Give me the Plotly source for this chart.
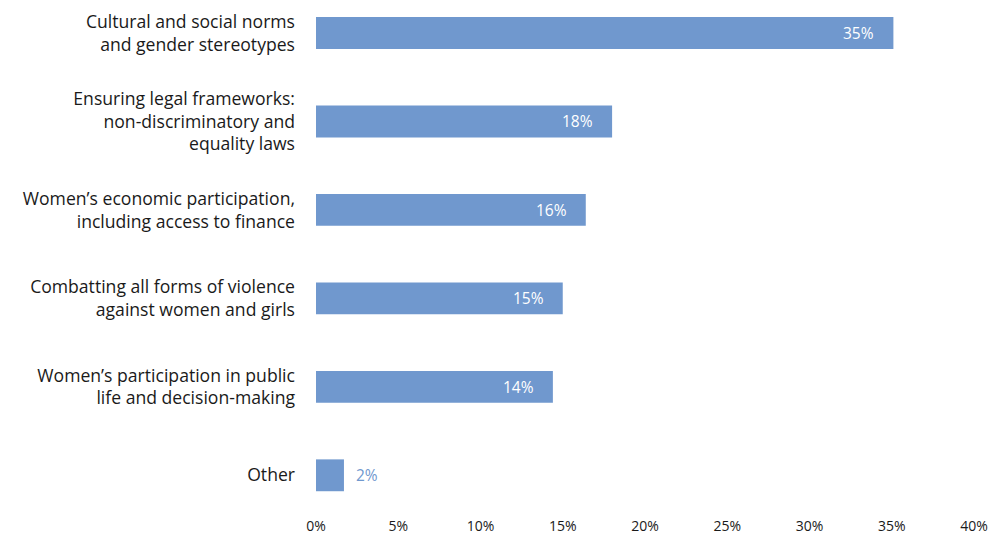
import plotly.graph_objects as go

# Share of responses by priority area (%)
categories = [
    "Cultural and social norms<br>and gender stereotypes",
    "Ensuring legal frameworks:<br>non-discriminatory and<br>equality laws",
    "Women\u2019s economic participation,<br>including access to finance",
    "Combatting all forms of violence<br>against women and girls",
    "Women\u2019s participation in public<br>life and decision-making",
    "Other",
]
values = [35.1, 18.0, 16.4, 15.0, 14.4, 1.7]
tick_vals = [0, 5, 10, 15, 20, 25, 30, 35, 40]
tick_text = [f"{v}%" for v in tick_vals]

BAR = "#7098CE"

fig = go.Figure(
    go.Bar(
        x=values,
        y=categories,
        orientation="h",
        marker=dict(color=BAR, line=dict(width=0)),
        width=0.36,
        hoverinfo="skip",
    )
)

# value labels: inside the bar end for large bars, outside for small ones
for cat, v in zip(categories, values):
    inside = v >= 5
    fig.add_annotation(
        x=v,
        y=cat,
        text=f"{v:.0f}%",
        showarrow=False,
        xanchor="right" if inside else "left",
        xshift=-17 if inside else 10,
        font=dict(family="Open Sans", size=15.5, color="white" if inside else BAR),
    )

fig.update_layout(
    width=990,
    height=536,
    margin=dict(l=316, r=16, t=10, b=20),
    paper_bgcolor="white",
    plot_bgcolor="white",
    showlegend=False,
    xaxis=dict(
        range=[0, 40],
        tickvals=tick_vals,
        ticktext=tick_text,
        showgrid=False,
        zeroline=False,
        showline=False,
        ticks="",
        automargin=False,
        tickfont=dict(family="Open Sans", size=14, color="#1a1a1a"),
    ),
    yaxis=dict(
        type="category",
        categoryorder="array",
        categoryarray=categories,
        range=[5.46, -0.26],
        showgrid=False,
        zeroline=False,
        showline=False,
        ticks="",
        automargin=False,
        ticklabelstandoff=20,
        tickfont=dict(family="Open Sans", size=17.6, color="#1a1a1a"),
    ),
)

fig.write_html("out.html")
